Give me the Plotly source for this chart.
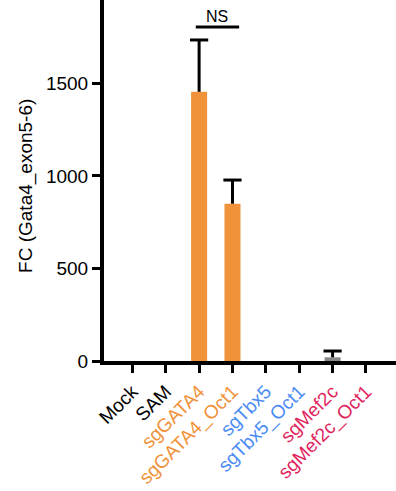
import plotly.graph_objects as go

categories = ["Mock", "SAM", "sgGATA4", "sgGATA4_Oct1", "sgTbx5", "sgTbx5_Oct1", "sgMef2c", "sgMef2c_Oct1"]
values = [0, 0, 1455, 850, 0, 0, 20, 0]
errors = [0, 0, 280, 128, 0, 0, 34, 0]
label_colors = ["#000000", "#000000", "#F0923A", "#F0923A", "#4B8BF4", "#4B8BF4", "#E0245E", "#E0245E"]
bar_colors = ["#F0923A", "#F0923A", "#F0923A", "#F0923A", "#888888", "#888888", "#888888", "#888888"]
y_ticks = [0, 500, 1000, 1500]
y_top_label = 2000

x_idx = list(range(len(categories)))
ticktext = [f"<span style='color:{c}'>{t}</span>" for t, c in zip(categories, label_colors)]

fig = go.Figure()
fig.add_trace(go.Bar(
    x=x_idx, y=values, width=0.48,
    marker=dict(color=bar_colors, line=dict(width=0)),
))

# upward-only error bars (no cap at the bar top)
ex, ey, cx, cy = [], [], [], []
for i, v, e in zip(x_idx, values, errors):
    if e > 0:
        ex += [i, i, None]
        ey += [v, v + e, None]
        cx.append(i)
        cy.append(v + e)
fig.add_trace(go.Scatter(x=ex, y=ey, mode="lines", line=dict(color="black", width=3),
                         hoverinfo="skip"))
fig.add_trace(go.Scatter(x=cx, y=cy, mode="markers",
                         marker=dict(symbol="line-ew", size=13, line=dict(color="black", width=3)),
                         hoverinfo="skip"))

font = "Liberation Sans, Arial, sans-serif"
y_max = 1951
fig.update_layout(
    width=396, height=491,
    margin=dict(l=104, r=0, t=0, b=130),
    plot_bgcolor="white", paper_bgcolor="white",
    showlegend=False,
    font=dict(family=font, size=19, color="black"),
    xaxis=dict(
        range=[-0.85, 7.9], tickmode="array", tickvals=x_idx, ticktext=ticktext,
        tickangle=-45, showline=True, linewidth=4, linecolor="black",
        ticks="outside", ticklen=8, tickwidth=3, tickcolor="black",
        showgrid=False, zeroline=False, tickfont=dict(size=19, family=font),
        automargin=False,
    ),
    yaxis=dict(
        range=[0, y_max], tickmode="array", tickvals=y_ticks,
        showline=True, linewidth=4, linecolor="black",
        ticks="outside", ticklen=8, tickwidth=3, tickcolor="black",
        showgrid=False, zeroline=False, tickfont=dict(size=19, family=font),
        automargin=False,
    ),
)

fig.add_annotation(x=26, y=0.485, xref="paper", yref="paper", text="FC (Gata4_exon5-6)",
                   textangle=-90, showarrow=False, xanchor="center", yanchor="middle",
                   font=dict(size=19, family=font))
fig.layout.annotations[0].x = (26 - 104) / 292
# partially visible top tick label (cut by the canvas edge, as in the reference)
fig.add_annotation(x=0, y=y_top_label / y_max, xref="paper", yref="paper", text=str(y_top_label),
                   xanchor="right", yanchor="middle", xshift=-12, showarrow=False,
                   font=dict(size=19, family=font))
fig.add_shape(type="line", x0=1.9, x1=3.2, y0=1805, y1=1805, xref="x", yref="y",
              line=dict(color="black", width=3))
fig.add_annotation(x=2.55, y=1805, xref="x", yref="y", text="NS", yanchor="bottom",
                   xanchor="center", showarrow=False, font=dict(size=16, family=font))

fig.write_html("out.html", config={"displayModeBar": False},
               post_script="document.body.style.margin='0';document.body.style.padding='0';")
